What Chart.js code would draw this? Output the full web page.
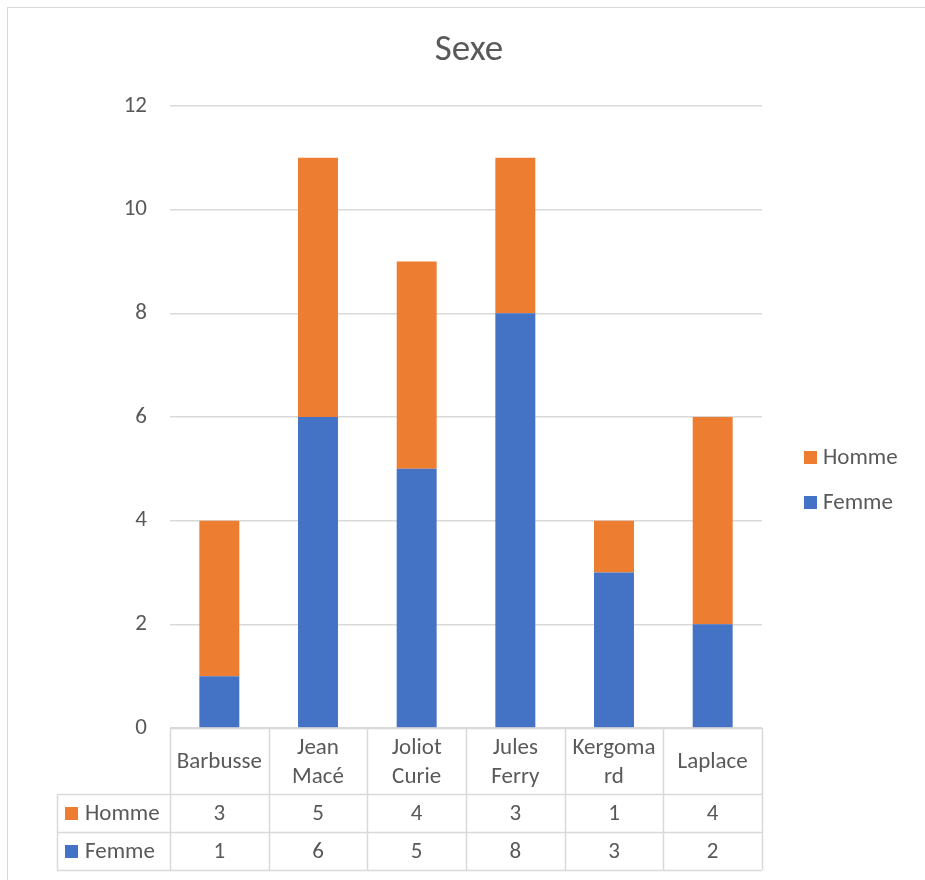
<!DOCTYPE html>
<html>
<head>
<meta charset="utf-8">
<script src="https://cdn.jsdelivr.net/npm/chart.js@4.4.0/dist/chart.umd.min.js"></script>
<style>
  body { margin: 0; background: #fff; }
  #wrap { width: 925px; height: 880px; }
</style>
</head>
<body>
<div id="wrap"><canvas id="myChart" width="925" height="880"></canvas></div>
<script>
// data
const titleText = "Sexe";
const schools = ["Barbusse", ["Jean", "Macé"], ["Joliot", "Curie"], ["Jules", "Ferry"], ["Kergoma", "rd"], "Laplace"];
const femme = [1, 6, 5, 8, 3, 2];
const homme = [3, 5, 4, 3, 1, 4];
const yTicks = [0, 2, 4, 6, 8, 10, 12];

const FONT = "Calibri, Carlito, Lato, sans-serif";
const TXT = "#595959";
const LINE = "#d9d9d9";
const FS = 23;

// draws frame, title, legend on the right and the data table under the bars
const tablePlugin = {
  id: "tablePlugin",
  beforeDraw(chart) {
    const ctx = chart.ctx;
    ctx.save();
    ctx.fillStyle = "#fff";
    ctx.fillRect(0, 0, chart.width, chart.height);
    ctx.strokeStyle = LINE;
    ctx.lineWidth = 1;
    ctx.strokeRect(7.5, 7.5, chart.width + 20, chart.height + 20);
    ctx.restore();
  },
  afterDraw(chart) {
    const ctx = chart.ctx;
    const x = chart.scales.x;
    const area = chart.chartArea;
    const n = chart.data.labels.length;
    const colW = (area.right - area.left) / n;
    const rows = chart.data.datasets.slice().reverse();

    ctx.save();
    // title
    ctx.fillStyle = TXT;
    ctx.font = "37px " + FONT;
    ctx.textAlign = "center";
    ctx.textBaseline = "middle";
    ctx.fillText(titleText, 469, 51);

    // right legend
    ctx.font = FS + "px " + FONT;
    ctx.textAlign = "left";
    rows.forEach((ds, i) => {
      const cy = 458 + i * 45;
      ctx.fillStyle = ds.backgroundColor;
      ctx.fillRect(804, cy - 7, 13, 13);
      ctx.fillStyle = TXT;
      ctx.fillText(ds.label, 823, cy);
    });

    // table
    const top = area.bottom;
    const headH = 66;
    const rowH = 38;
    const bottom = top + headH + rowH * rows.length;
    const leftCol = 57;
    ctx.strokeStyle = LINE;
    ctx.lineWidth = 1.5;
    ctx.beginPath();
    ctx.moveTo(area.left, top + 0.5);
    ctx.lineTo(area.right, top + 0.5);
    for (let r = 0; r <= rows.length; r++) {
      const y = Math.round(top + headH + r * rowH) + 0.5;
      ctx.moveTo(leftCol, y);
      ctx.lineTo(area.right, y);
    }
    ctx.moveTo(leftCol + 0.5, top + headH);
    ctx.lineTo(leftCol + 0.5, bottom);
    for (let i = 0; i <= n; i++) {
      const vx = Math.round(area.left + i * colW) + 0.5;
      ctx.moveTo(vx, top);
      ctx.lineTo(vx, bottom);
    }
    ctx.stroke();

    ctx.fillStyle = TXT;
    ctx.font = FS + "px " + FONT;
    ctx.textAlign = "center";
    chart.data.labels.forEach((lab, i) => {
      const cx = x.getPixelForValue(i);
      const lines = Array.isArray(lab) ? lab : [lab];
      const mid = top + headH / 2 + 1.5;
      lines.forEach((t, k) => {
        ctx.fillText(t, cx, mid + (k - (lines.length - 1) / 2) * 29);
      });
    });
    rows.forEach((ds, r) => {
      const cy = top + headH + r * rowH + rowH / 2 + 1;
      ctx.fillStyle = ds.backgroundColor;
      ctx.fillRect(65, cy - 7, 13, 13);
      ctx.fillStyle = TXT;
      ctx.textAlign = "left";
      ctx.fillText(ds.label, 85, cy);
      ctx.textAlign = "center";
      ds.data.forEach((v, i) => {
        ctx.fillText(String(v), x.getPixelForValue(i), cy);
      });
    });
    ctx.restore();
  }
};

const ctx = document.getElementById("myChart");
new Chart(ctx, {
  type: "bar",
  data: {
    labels: schools,
    datasets: [
      { label: "Femme", data: femme, backgroundColor: "#4472C4", barPercentage: 0.405, categoryPercentage: 1 },
      { label: "Homme", data: homme, backgroundColor: "#ED7D31", barPercentage: 0.405, categoryPercentage: 1 }
    ]
  },
  options: {
    responsive: false,
    animation: false,
    layout: { padding: { top: 106, right: 163, bottom: 152, left: 0 } },
    plugins: {
      legend: { display: false },
      title: { display: false },
      tooltip: { enabled: false }
    },
    scales: {
      x: { stacked: true, display: false },
      y: {
        stacked: true,
        min: 0,
        max: 12,
        afterBuildTicks: (s) => { s.ticks = yTicks.map(v => ({ value: v })); },
        afterFit: (s) => { s.width = 170; },
        border: { display: false },
        grid: { color: LINE, lineWidth: 1.5, drawTicks: false },
        ticks: { color: TXT, font: { family: FONT, size: FS }, padding: 23 }
      }
    }
  },
  plugins: [tablePlugin]
});
</script>
</body>
</html>
